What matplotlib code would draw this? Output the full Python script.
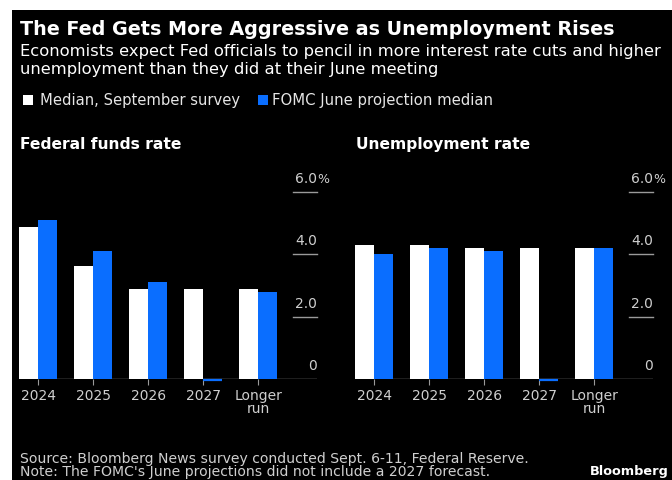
import matplotlib
matplotlib.use("Agg")
import matplotlib.pyplot as plt
from matplotlib.patches import Rectangle
import numpy as np

categories = ["2024", "2025", "2026", "2027", "Longer\nrun"]
ffr_september = [4.875, 3.625, 2.875, 2.875, 2.875]
ffr_june = [5.1, 4.1, 3.1, None, 2.8]
unemp_september = [4.3, 4.3, 4.2, 4.2, 4.2]
unemp_june = [4.0, 4.2, 4.1, None, 4.2]
yticks = [0, 2.0, 4.0, 6.0]
ytick_labels = ["0", "2.0", "4.0", "6.0"]

BG = "#000000"
BLUE = "#0A6EFF"
GRID = "#9a9a9a"
TICKC = "#cfcfcf"

W, H = 672, 480
fig = plt.figure(figsize=(W / 100, H / 100), dpi=100)
fig.patch.set_facecolor("white")
# black panel (reference has a thin white margin at top/left)
fig.add_artist(Rectangle((12 / W, 0), 1, (H - 10) / H, transform=fig.transFigure,
                         facecolor=BG, edgecolor="none", zorder=0))

def px(x, y):
    return x / W, 1 - y / H

fig.text(*px(20, 35), "The Fed Gets More Aggressive as Unemployment Rises",
         color="white", fontsize=13.8, fontweight="bold", va="baseline", ha="left")
fig.text(*px(20, 56), "Economists expect Fed officials to pencil in more interest rate cuts and higher",
         color="white", fontsize=11.8, va="baseline", ha="left")
fig.text(*px(20, 74), "unemployment than they did at their June meeting",
         color="white", fontsize=11.8, va="baseline", ha="left")

# legend
fig.add_artist(Rectangle(px(22.5, 105), 10 / W, 10 / H, transform=fig.transFigure,
                         facecolor="white", edgecolor="none"))
fig.text(*px(40, 104.5), "Median, September survey", color="#e6e6e6", fontsize=10.6,
         va="baseline", ha="left")
fig.add_artist(Rectangle(px(258, 105), 9.5 / W, 10 / H, transform=fig.transFigure,
                         facecolor=BLUE, edgecolor="none"))
fig.text(*px(272, 104.5), "FOMC June projection median", color="#e6e6e6", fontsize=10.7,
         va="baseline", ha="left")

YMAX = 6.6
unit = 31.23
panels = [
    (19, "Federal funds rate", ffr_september, ffr_june),
    (355, "Unemployment rate", unemp_september, unemp_june),
]
x = np.arange(len(categories))
bw = 0.35
for left_px, title, sept, june in panels:
    top_px = 379 - YMAX * unit
    ax = fig.add_axes([left_px / W, (H - 379) / H, 298 / W, (379 - top_px) / H])
    ax.set_facecolor("none")
    ax.set_xlim(-0.35, 5.07)
    ax.set_ylim(0, YMAX)
    ax.bar(x - bw / 2, sept, width=bw, color="white", edgecolor="none", zorder=2)
    jv = [0 if v is None else v for v in june]
    ax.bar(x + bw / 2, jv, width=bw, color=BLUE, edgecolor="none", zorder=2)
    for i, v in enumerate(june):
        if v is None:
            ax.plot([x[i], x[i] + bw], [-0.03, -0.03], color=BLUE, lw=1.6,
                    zorder=3, clip_on=False, solid_capstyle="butt")
    ax.axhline(0, color=GRID, lw=1.0, zorder=1)
    xr = 5.07
    xl = xr - 24 / 55
    for yt, lab in zip(yticks, ytick_labels):
        if yt != 0:
            ax.plot([xl, xr], [yt, yt], color=GRID, lw=1.0, clip_on=False)
        ax.text(xr, yt + 0.28, lab, color=TICKC, fontsize=10, ha="right", va="baseline")
        if yt == 6.0:
            ax.text(xr, yt + 0.28, "%", color=TICKC, fontsize=9, ha="left", va="baseline")
    for s in ax.spines.values():
        s.set_visible(False)
    ax.set_yticks([])
    ax.set_xticks(x)
    ax.set_xticklabels(categories, color=TICKC, fontsize=10, linespacing=0.95)
    ax.tick_params(axis="x", length=4, color=GRID, pad=3)
    fig.text(*px(left_px + 1, 149), title, color="white", fontsize=11.2,
             fontweight="bold", va="baseline", ha="left")

fig.text(*px(20, 463), "Source: Bloomberg News survey conducted Sept. 6-11, Federal Reserve.",
         color=TICKC, fontsize=10.1, va="baseline", ha="left")
fig.text(*px(20, 476), "Note: The FOMC's June projections did not include a 2027 forecast.",
         color=TICKC, fontsize=10.1, va="baseline", ha="left")
fig.text(*px(669, 475), "Bloomberg", color="white", fontsize=9.3, fontweight="bold",
         va="baseline", ha="right")

fig.savefig("out.png", dpi=100, facecolor=fig.get_facecolor())
